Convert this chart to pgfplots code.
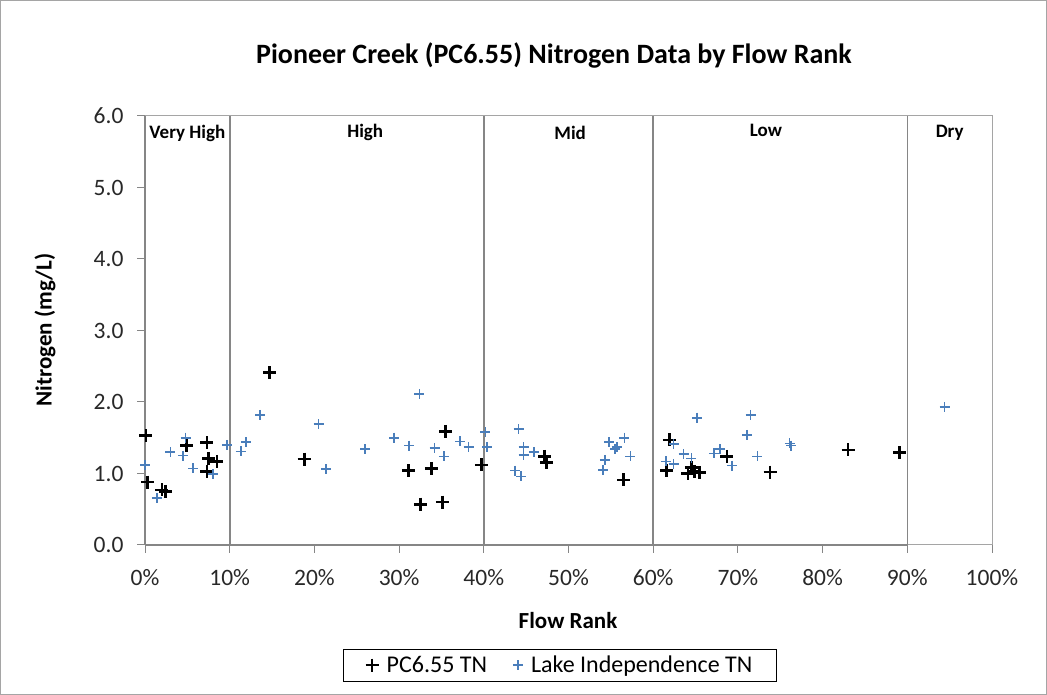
\documentclass[border=0pt]{standalone}
\usepackage{pgfplots}
\pgfplotsset{compat=1.18}
\usepackage{fontspec}
\setmainfont{Carlito}
\definecolor{liblue}{RGB}{74,126,187}
\definecolor{axgray}{RGB}{134,134,134}
\definecolor{framegray}{RGB}{165,165,165}
\definecolor{ticktext}{RGB}{40,40,40}

\pgfplotstableread{
x y
0.1 1.53
0.3 0.88
2.0 0.77
2.4 0.75
4.9 1.39
7.3 1.43
7.5 1.21
8.5 1.17
7.3 1.03
14.7 2.41
18.8 1.20
31.1 1.04
33.8 1.07
32.5 0.57
35.1 0.60
35.5 1.59
39.7 1.12
47.2 1.24
47.4 1.15
56.5 0.91
61.9 1.47
61.6 1.04
64.1 1.00
64.5 1.08
64.9 1.03
65.5 1.01
68.7 1.24
73.8 1.02
83.0 1.33
89.1 1.29
}\pcdata

\pgfplotstableread{
x y
0.0 1.12
1.4 0.66
3.0 1.30
4.8 1.50
4.5 1.25
5.7 1.07
8.0 0.99
9.7 1.40
11.3 1.31
11.9 1.44
13.6 1.82
20.5 1.69
21.4 1.06
26.0 1.34
29.4 1.50
31.2 1.39
32.4 2.11
34.2 1.36
35.3 1.24
37.2 1.45
38.2 1.37
40.2 1.58
40.4 1.37
43.7 1.04
44.1 1.62
44.4 0.96
44.7 1.37
44.7 1.26
45.9 1.30
54.1 1.05
54.3 1.19
54.8 1.44
55.5 1.34
55.7 1.37
56.6 1.50
57.3 1.24
61.5 1.17
62.4 1.41
62.4 1.13
63.6 1.27
64.5 1.21
65.2 1.78
67.2 1.28
67.9 1.34
69.3 1.11
71.1 1.54
71.5 1.82
72.3 1.24
76.1 1.42
76.3 1.39
94.4 1.93
}\lakedata

\begin{document}
\begin{tikzpicture}[x=1pt,y=1pt]
\path[use as bounding box] (0,0) rectangle (1047,695);
\draw[framegray, line width=1pt] (0.5,0.5) rectangle (1046.5,694.5);
\node[font=\fontsize{28}{32}\selectfont\bfseries] at (554,640) {Pioneer Creek (PC6.55) Nitrogen Data by Flow Rank};
\node[font=\fontsize{23}{26}\selectfont\bfseries, rotate=90] at (45,365) {Nitrogen (mg/L)};
\node[font=\fontsize{23}{26}\selectfont\bfseries] at (568,74) {Flow Rank};
\begin{axis}[
  at={(145pt,150pt)}, anchor=south west,
  scale only axis, width=847pt, height=429pt,
  xmin=0, xmax=100, ymin=0, ymax=6,
  xtick={0,10,...,100},
  xticklabels={0\%,10\%,20\%,30\%,40\%,50\%,60\%,70\%,80\%,90\%,100\%},
  ytick={0,1,...,6},
  yticklabels={0.0,1.0,2.0,3.0,4.0,5.0,6.0},
  tick pos=left, tick align=outside, major tick length=8pt,
  tick style={axgray, line width=1pt},
  axis line style={framegray, line width=1pt},
  ticklabel style={font=\fontsize{23.5}{26}\selectfont, text=ticktext},
  yticklabel style={xshift=-10pt},
  xticklabel style={yshift=-13pt},
  clip=false,
  legend style={at={(0.49,-0.28)}, anchor=center, draw=black, line width=0.8pt,
    legend columns=2, font=\fontsize{24}{27}\selectfont,
    inner xsep=22pt, inner ysep=5pt,
    /tikz/every odd column/.append style={column sep=6pt},
    /tikz/every even column/.append style={column sep=24pt}},
  legend cell align=left,
]
\draw[axgray, line width=1.6pt] (axis cs:0,0) -- (axis cs:0,6);
\draw[axgray, line width=1.6pt] (axis cs:0,0) -- (axis cs:90,0);
\draw[axgray, line width=1.6pt] (axis cs:10,0) -- (axis cs:10,6);
\draw[axgray, line width=1.6pt] (axis cs:40,0) -- (axis cs:40,6);
\draw[axgray, line width=1.6pt] (axis cs:60,0) -- (axis cs:60,6);
\draw[axgray, line width=1.6pt] (axis cs:90,0) -- (axis cs:90,6);
\addplot[only marks, mark=+, black, mark size=6.5pt, mark options={line width=2.6pt}] table[x=x,y=y] {\pcdata};
\addlegendentry{PC6.55 TN}
\addplot[only marks, mark=+, liblue, mark size=5pt, mark options={line width=1.6pt}] table[x=x,y=y] {\lakedata};
\addlegendentry{Lake Independence TN}
\node[font=\fontsize{19}{21}\selectfont\bfseries] at (axis cs:5,5.76) {Very High};
\node[font=\fontsize{19}{21}\selectfont\bfseries] at (axis cs:26,5.77) {High};
\node[font=\fontsize{19}{21}\selectfont\bfseries] at (axis cs:50.2,5.77) {Mid};
\node[font=\fontsize{19}{21}\selectfont\bfseries] at (axis cs:73.3,5.8) {Low};
\node[font=\fontsize{19}{21}\selectfont\bfseries] at (axis cs:95,5.77) {Dry};
\end{axis}
\end{tikzpicture}
\end{document}
